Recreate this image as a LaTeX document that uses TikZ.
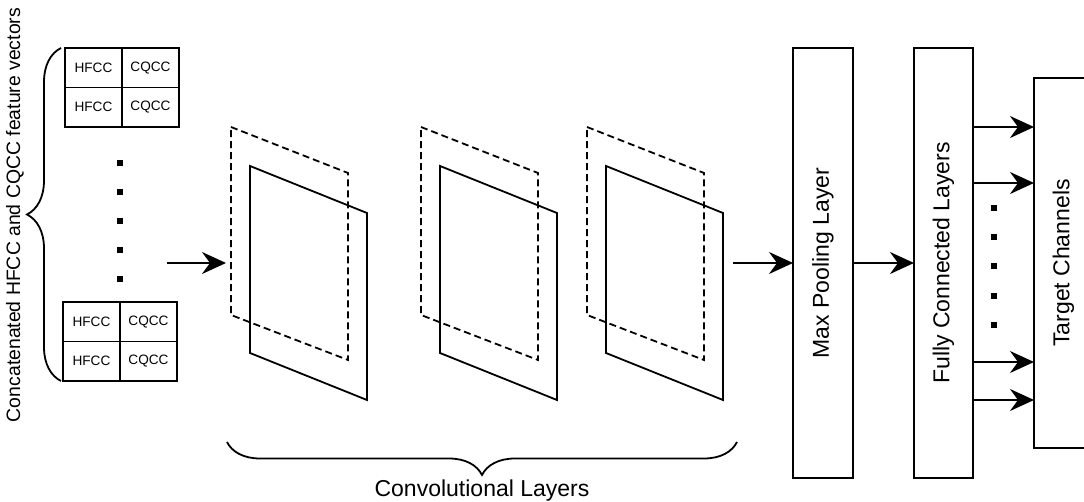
\documentclass[tikz,border=0pt]{standalone}
\usepackage{fontspec}
\setmainfont{Liberation Sans}
\usepackage{xcolor}
\usepackage{tikz}
\usetikzlibrary{arrows.meta, positioning, decorations.pathreplacing}
\definecolor{ink}{HTML}{000000}
\tikzset{
    cell/.style={
        draw=ink, line width=0.9pt,
        minimum width=28.5pt, minimum height=19.75pt,
        inner sep=0pt, outer sep=0pt,
        font=\fontsize{6.8}{8}\selectfont,
    },
    layerbox/.style={
        draw=ink, line width=0.9pt,
        minimum width=29.5pt, minimum height=215pt,
        inner sep=0pt, outer sep=0pt,
        font=\fontsize{11.5}{14}\selectfont,
    },
    arr/.style={
        -{Stealth[length=12pt, width=11pt, inset=4pt]}, line width=0.9pt, ink,
    },
    sqdot/.style={
        fill=ink, minimum size=2.6pt, inner sep=0pt, outer sep=0pt,
    },
    fmap/.style={
        draw=ink, line width=0.9pt, line join=miter,
    },
    fmapback/.style={
        fmap, dash pattern=on 3.5pt off 2pt,
    },
    curly/.style={
        draw=ink, line width=0.9pt, decorate, decoration={brace, amplitude=#1},
    },
    bracelabel/.style={
        font=\fontsize{11.5}{14}\selectfont, inner sep=0pt,
    },
}

\begin{document}
\begin{tikzpicture}[x=0.5pt, y=-0.5pt]
\useasboundingbox (0,0) rectangle (1084,502);
\clip (0,0) rectangle (1084,502);

% ═══ INPUT FEATURE VECTORS ═══
\node[cell, anchor=north west] (top11) at (65,48) {HFCC};
\node[cell, right=0pt of top11] (top12) {CQCC};
\node[cell, below=0pt of top11] (top21) {HFCC};
\node[cell, right=0pt of top21] (top22) {CQCC};

\node[cell, anchor=north west] (bot11) at (63,302) {HFCC};
\node[cell, right=0pt of bot11] (bot12) {CQCC};
\node[cell, below=0pt of bot11] (bot21) {HFCC};
\node[cell, right=0pt of bot21] (bot22) {CQCC};

% vertical ellipsis between the two blocks
\foreach \i/\y in {1/163, 2/192, 3/221, 4/250, 5/279}
    \node[sqdot] (vdot\i) at (120,\y) {};

% Brace + label on the left
\draw[curly=17pt] ([xshift=-1pt]bot21.south west) -- ([xshift=-1pt]bot21.west |- top11.north);
\node[rotate=90, font=\fontsize{9.7}{12}\selectfont, inner sep=0pt]
    (featlabel) at (15,215) {Concatenated HFCC and CQCC feature vectors};

% Arrow into the first conv layer
\coordinate (featout) at (167,263);
\coordinate (convin) at (226,263);
\draw[arr] (featout) -- (convin);

% ═══ CONVOLUTIONAL LAYERS ═══
\foreach \dx in {0, 190, 356} {
    \draw[fmapback] (231+\dx,127) -- (348+\dx,173) -- (348+\dx,360) -- (231+\dx,315) -- cycle;
    \draw[fmap] (250+\dx,166) -- (367+\dx,213) -- (367+\dx,400) -- (250+\dx,353) -- cycle;
}

\draw[curly=16.5pt] (737,442) -- (227,442);
\node[bracelabel] (convlabel) at (482,491) {Convolutional Layers};

% ═══ POOLING, DENSE AND OUTPUT ═══
\node[layerbox, minimum width=30pt] (pool) at (823,263) {\rotatebox{90}{Max Pooling Layer}};
\node[layerbox, right=30.5pt of pool] (fc) {\rotatebox{90}{Fully Connected Layers}};
\node[layerbox, minimum height=185pt, right=30.5pt of fc] (target) {\rotatebox{90}{Target Channels}};

% Arrows
\coordinate (convout) at (733,263);
\draw[arr] (convout) -- (pool);
\draw[arr] (pool) -- (fc);
\foreach \y in {127, 183, 362, 400} {
    \coordinate (lvl) at (0,\y);
    \draw[arr] (fc.east |- lvl) -- (target.west |- lvl);
}

% dots between the output arrows
\foreach \i/\y in {1/208, 2/237, 3/266, 4/296, 5/325}
    \node[sqdot] (hdot\i) at (994,\y) {};

\end{tikzpicture}
\end{document}
